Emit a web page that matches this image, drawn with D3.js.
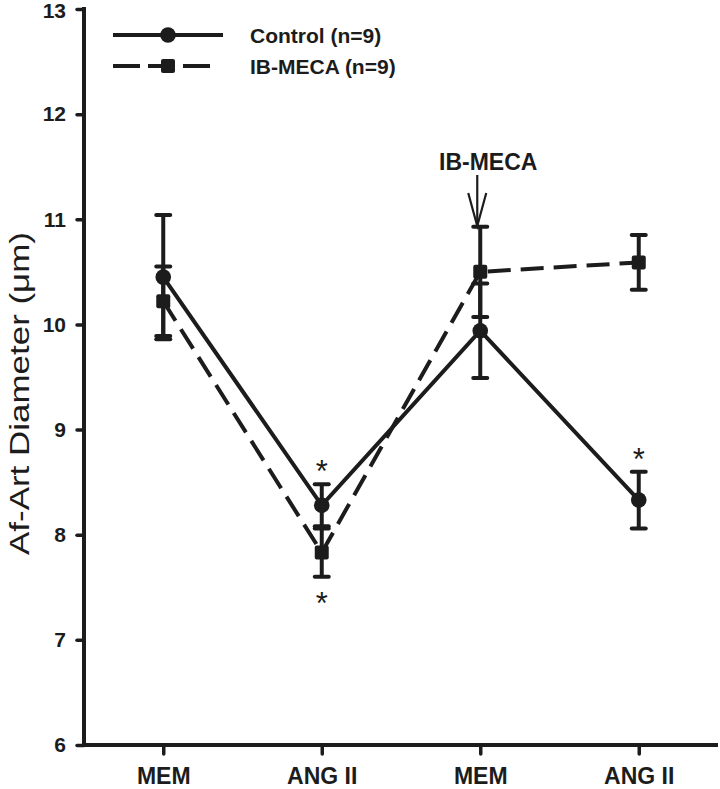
<!DOCTYPE html>
<html><head><meta charset="utf-8">
<script src="https://cdn.jsdelivr.net/npm/d3@7"></script>
<style>body{margin:0;background:#fff}svg{display:block}text{font-family:"Liberation Sans",Arial,sans-serif;fill:#1c1c1c}</style>
</head><body>
<svg id="c" width="720" height="789"></svg>
<script>
const categories = ["MEM", "ANG II", "MEM", "ANG II"];
const controlMean = [10.45, 8.28, 9.94, 8.33];
const controlErr  = [0.59, 0.20, 0.45, 0.27];
const ibMean = [10.22, 7.83, 10.50, 10.59];
const ibErr  = [0.33, 0.23, 0.43, 0.26];
const yTicks = [6, 7, 8, 9, 10, 11, 12, 13];
const seriesNames = ["Control (n=9)", "IB-MECA (n=9)"];
// significance marks: [category index, series, position]
const stars = [[1, "control", "above"], [1, "ib", "below"], [3, "control", "above"]];

const ink = "#1c1c1c";
const svg = d3.select("#c");
const idx = categories.map((d, i) => i);
const x = d3.scalePoint().domain(idx).range([84, 718]).padding(0.5);
const y = d3.scaleLinear().domain([6, 13]).range([745, 9]);

// axes
const ya = svg.append("g").attr("transform", "translate(84,0)")
  .call(d3.axisLeft(y).tickValues(yTicks).tickSize(7).tickSizeOuter(0).tickPadding(11).tickFormat(d3.format("d")));
const xa = svg.append("g").attr("transform", "translate(0,745)")
  .call(d3.axisBottom(x).tickSize(9).tickSizeOuter(0).tickFormat(i => categories[i]));
[ya, xa].forEach(g => {
  g.select(".domain").attr("stroke", ink).attr("stroke-width", 4).attr("stroke-linecap", "square");
  g.selectAll(".tick line").attr("stroke", ink).attr("stroke-width", 3.5).attr("stroke-linecap", "round");
});
ya.select(".domain").attr("d", `M0,${y(6)}V${y(13)}`);
xa.select(".domain").attr("d", `M84,0H716`);
ya.selectAll(".tick text").attr("font-size", 21).attr("font-weight", "bold").attr("fill", ink);
ya.selectAll(".tick text").filter(d => d === 13).attr("dy", "0.42em");
xa.selectAll(".tick text").attr("font-size", 23).attr("font-weight", "bold").attr("fill", ink).attr("y", 39).attr("dy", 0);

// y title
svg.append("text").attr("transform", `translate(29,${(232 + 555) / 2}) rotate(-90)`)
  .attr("text-anchor", "middle").attr("font-size", 27)
  .attr("textLength", 323).attr("lengthAdjust", "spacingAndGlyphs")
  .text("Af-Art Diameter (\u03BCm)");

const line = d3.line().x((d, i) => x(i)).y(d => y(d));
const series = [
  {key: "control", mean: controlMean, err: controlErr, dash: null, marker: "circle"},
  {key: "ib", mean: ibMean, err: ibErr, dash: "23,10", marker: "square"}
];

// error bars
series.forEach(s => {
  const g = svg.append("g").attr("stroke", ink).attr("stroke-width", 4).attr("stroke-linecap", "round");
  s.mean.forEach((m, i) => {
    const lo = y(m - s.err[i]), hi = y(m + s.err[i]), cx = x(i);
    g.append("line").attr("x1", cx).attr("x2", cx).attr("y1", lo).attr("y2", hi).attr("stroke-linecap", "butt");
    g.append("line").attr("x1", cx - 7).attr("x2", cx + 7).attr("y1", lo).attr("y2", lo);
    g.append("line").attr("x1", cx - 7).attr("x2", cx + 7).attr("y1", hi).attr("y2", hi);
  });
});

function marker(g, type, cx, cy) {
  if (type === "circle") g.append("circle").attr("cx", cx).attr("cy", cy).attr("r", 7.8).attr("fill", ink);
  else g.append("rect").attr("x", cx - 7).attr("y", cy - 7).attr("width", 14).attr("height", 14).attr("rx", 2).attr("fill", ink);
}

// lines and markers
series.forEach(s => {
  svg.append("path").datum(s.mean).attr("d", line).attr("fill", "none").attr("stroke", ink)
    .attr("stroke-width", 4).attr("stroke-dasharray", s.dash);
});
series.forEach(s => {
  const g = svg.append("g");
  s.mean.forEach((m, i) => marker(g, s.marker, x(i), y(m)));
});

// asterisks
stars.forEach(([i, key, pos]) => {
  const s = series.find(t => t.key === key);
  const cy = pos === "above" ? y(s.mean[i] + s.err[i]) - 20 : y(s.mean[i] - s.err[i]) + 19;
  svg.append("text").attr("x", x(i)).attr("y", cy + 18).attr("text-anchor", "middle")
    .attr("font-size", 31).text("*");
});

// IB-MECA arrow annotation
const ax = x(2) - 3;
svg.append("text").attr("x", ax + 11).attr("y", 170).attr("text-anchor", "middle")
  .attr("font-size", 23).attr("font-weight", "bold").text("IB-MECA");
const ag = svg.append("g").attr("stroke", ink).attr("stroke-width", 2.2).attr("fill", "none");
ag.append("line").attr("x1", ax).attr("x2", ax).attr("y1", 175).attr("y2", 226);
ag.append("path").attr("d", `M${ax - 9},193L${ax},226L${ax + 9},193`);

// legend
const leg = svg.append("g");
series.forEach((s, k) => {
  const ly = 35 + k * 31;
  leg.append("line").attr("x1", 113).attr("x2", k ? 211 : 223).attr("y1", ly).attr("y2", ly)
    .attr("stroke", ink).attr("stroke-width", 4).attr("stroke-dasharray", k ? "27,8" : null);
  marker(leg, s.marker, 168, ly);
  leg.append("text").attr("x", 250).attr("y", ly + 8).attr("font-size", 21).attr("font-weight", "bold").text(seriesNames[k]);
});
</script>
</body></html>
